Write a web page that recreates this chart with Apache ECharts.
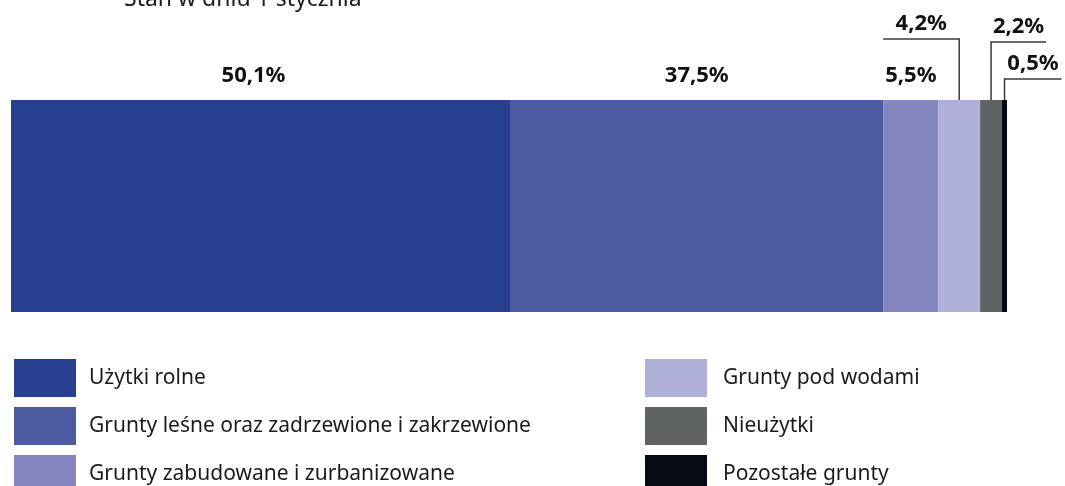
<!DOCTYPE html>
<html>
<head>
<meta charset="utf-8">
<script src="https://cdn.jsdelivr.net/npm/echarts@6/dist/echarts.min.js"></script>
<style>
  html, body { margin: 0; padding: 0; background: #fff; }
  #chart { width: 1065px; height: 486px; }
</style>
</head>
<body>
<div id="chart"></div>
<script>
const categories = [
  "Użytki rolne",
  "Grunty leśne oraz zadrzewione i zakrzewione",
  "Grunty zabudowane i zurbanizowane",
  "Grunty pod wodami",
  "Nieużytki",
  "Pozostałe grunty",
]
const shares = [50.1, 37.5, 5.5, 4.2, 2.2, 0.5]
const colors = ["#26408f", "#4c5aa0", "#8585c0", "#afb0d9", "#5f6363", "#060a12"]

// odnośniki dla wąskich segmentów: wysokość nad słupkiem i długość poziomej kreski
const leaders = {
  3: { rise: 61, run: -76 },
  4: { rise: 58, run: 55 },
  5: { rise: 21, run: 57 },
}

const BAR_H = 212
const fmt = (v) => v.toFixed(1).replace(".", ",") + "%"

const chart = echarts.init(document.getElementById("chart"))

// środki segmentów liczone z udziałów
let acc = 0
const mids = shares.map((v) => {
  const m = acc + v / 2
  acc += v
  return m
})

const barSeries = categories.map((name, i) => ({
  name,
  type: "bar",
  stack: "total",
  barWidth: BAR_H,
  itemStyle: { color: colors[i] },
  emphasis: { disabled: true },
  label: {
    show: !leaders[i],
    position: "top",
    distance: 13,
    offset: i === 0 ? [-7, 0] : [0, 0],
    formatter: () => fmt(shares[i]),
    fontFamily: "Noto Sans",
    fontSize: 22,
    fontWeight: "bold",
    color: "#111",
  },
  data: [shares[i]],
}))

const leaderData = []
shares.forEach((v, i) => {
  if (leaders[i]) leaderData.push([mids[i], 0, i])
})

const leaderSeries = {
  type: "custom",
  z: 5,
  silent: true,
  data: leaderData,
  encode: { x: 0, y: 1 },
  renderItem: (params, api) => {
    const idx = api.value(2)
    const cfg = leaders[idx]
    const p = api.coord([api.value(0), 0])
    const top = p[1] - BAR_H / 2
    const yl = top - cfg.rise
    const xe = p[0] + cfg.run
    return {
      type: "group",
      children: [
        {
          type: "polyline",
          shape: { points: [[p[0], top], [p[0], yl], [xe, yl]] },
          style: { stroke: "#3a3a3a", lineWidth: 1.5, fill: null },
        },
        {
          type: "text",
          style: {
            x: (p[0] + xe) / 2,
            y: yl - 4,
            text: fmt(shares[idx]),
            align: "center",
            verticalAlign: "bottom",
            fontFamily: "Noto Sans",
            fontSize: 22,
            fontWeight: "bold",
            fill: "#111",
          },
        },
      ],
    }
  },
}

const legendBase = {
  orient: "vertical",
  icon: "rect",
  itemWidth: 62,
  itemHeight: 38,
  itemGap: 10,
  top: 359,
  height: 200,
  padding: 0,
  selectedMode: false,
  textStyle: { fontFamily: "Noto Sans", fontSize: 21, color: "#1b1b1b" },
}

chart.setOption({
  animation: false,
  title: {
    text: "Stan w dniu 1 stycznia",
    left: 119,
    top: -17,
    textStyle: { fontFamily: "Noto Sans", fontSize: 23, fontWeight: "normal", color: "#1b1b1b" },
  },
  legend: [
    { ...legendBase, left: 14, data: categories.slice(0, 3), textStyle: { ...legendBase.textStyle, padding: [0, 0, 0, 8] } },
    { ...legendBase, left: 645, data: categories.slice(3), textStyle: { ...legendBase.textStyle, padding: [0, 0, 0, 11] } },
  ],
  grid: { left: 11, top: 100, width: 996, height: BAR_H },
  xAxis: { type: "value", min: 0, max: 100, show: false },
  yAxis: { type: "category", data: [""], show: false },
  series: [...barSeries, leaderSeries],
})

window.addEventListener("resize", () => chart.resize())
</script>
</body>
</html>
